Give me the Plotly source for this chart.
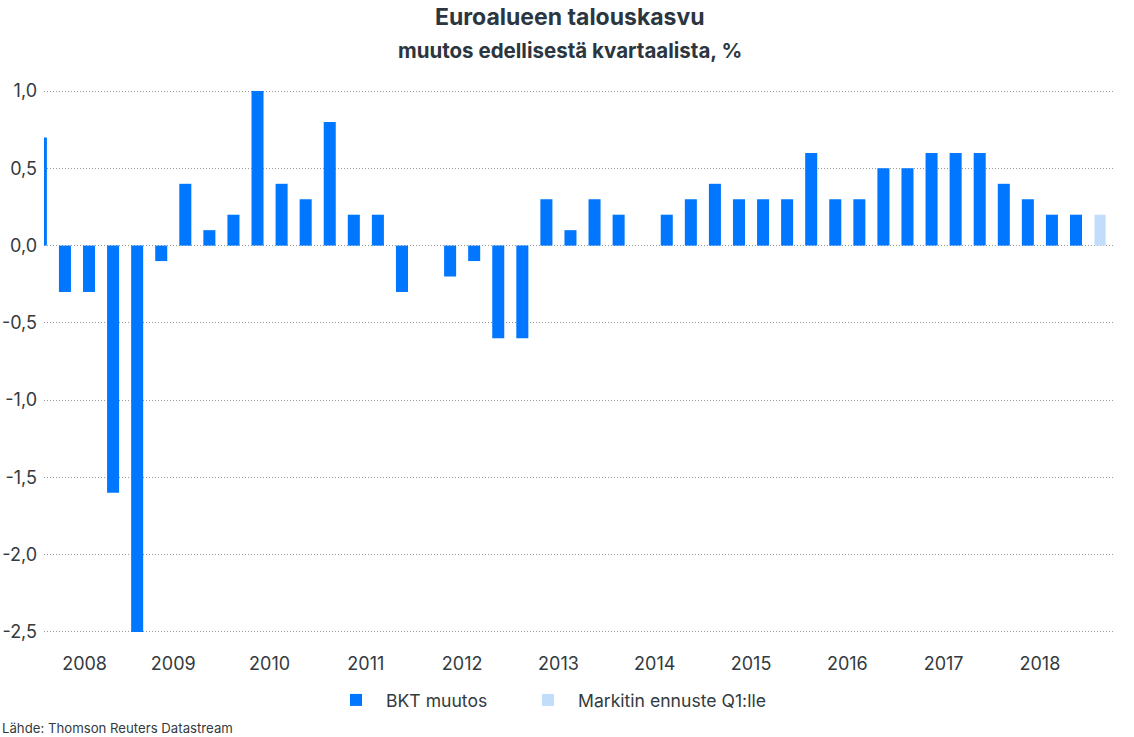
import plotly.graph_objects as go

# Quarterly euro-area GDP change, % q/q, starting 2008 Q1
start_year = 2008
gdp_change = [0.7, -0.3, -0.3, -1.6,
              -2.5, -0.1, 0.4, 0.1,
              0.2, 1.0, 0.4, 0.3,
              0.8, 0.2, 0.2, -0.3,
              0.0, -0.2, -0.1, -0.6,
              -0.6, 0.3, 0.1, 0.3,
              0.2, 0.0, 0.2, 0.3,
              0.4, 0.3, 0.3, 0.3,
              0.6, 0.3, 0.3, 0.5,
              0.5, 0.6, 0.6, 0.6,
              0.4, 0.3, 0.2, 0.2]
forecast_value = [0.2]  # Markit forecast for next Q1

years = list(range(2008, 2019))
y_ticks = [1.0, 0.5, 0.0, -0.5, -1.0, -1.5, -2.0, -2.5]
y_tick_text = [f"{v:.1f}".replace(".", ",") for v in y_ticks]

quarters_x = list(range(len(gdp_change)))
forecast_x = [len(gdp_change)]

BLUE = "#0077fe"
LIGHT = "#c2ddfb"
TXT = "#333a40"
FONT = "Inter"

x_range = [0.13, 44.62]
year_pos = []
for yr in years:
    first = 4 * (yr - start_year)
    lo = max(first - 0.5, x_range[0])
    year_pos.append((lo + first + 3.5) / 2)

fig = go.Figure()
fig.add_trace(go.Bar(x=quarters_x, y=gdp_change, name="BKT muutos",
                     marker=dict(color=BLUE, line=dict(width=0)), width=0.5,
                     legend="legend"))
fig.add_trace(go.Bar(x=forecast_x, y=forecast_value, name="Markitin ennuste Q1:lle",
                     marker=dict(color=LIGHT, line=dict(width=0)), width=0.46,
                     legend="legend2"))

legend_style = dict(orientation="h", xref="container", yref="container",
                    xanchor="left", y=1 - 700 / 737, yanchor="middle",
                    font=dict(size=17.6, color=TXT), itemwidth=50,
                    bgcolor="rgba(0,0,0,0)")

fig.update_layout(
    width=1134, height=737,
    margin=dict(l=44, r=19, t=88, b=102, autoexpand=False),
    paper_bgcolor="white", plot_bgcolor="white",
    font=dict(family=FONT, color=TXT, size=18),
    barmode="overlay",
    showlegend=True,
    legend=dict(x=326 / 1134, **legend_style),
    legend2=dict(x=518 / 1134, **legend_style),
    xaxis=dict(range=x_range, tickvals=year_pos, ticktext=[str(y) for y in years],
               showgrid=False, zeroline=False, showline=False, ticks="",
               automargin=False,
               ticklabelstandoff=16, tickfont=dict(size=18, color=TXT)),
    yaxis=dict(range=[-2.52, 1.02], tickvals=y_ticks, ticktext=y_tick_text,
               showgrid=True, gridcolor="#9a9a9a", griddash="1px,2px", gridwidth=1,
               zeroline=False, showline=False, ticks="", automargin=False,
               ticklabelstandoff=6, tickfont=dict(size=18, color=TXT)),
    annotations=[
        dict(text="<b>Euroalueen talouskasvu</b>", xref="paper", yref="paper",
             x=(569.5 - 44) / 1071, y=1 + (88 - 17) / 547, xanchor="center", yanchor="middle",
             showarrow=False, font=dict(size=23, color="#2b3640", family=FONT)),
        dict(text="<b>muutos edellisestä kvartaalista, %</b>", xref="paper", yref="paper",
             x=(569.5 - 44) / 1071, y=1 + (88 - 50) / 547, xanchor="center", yanchor="middle",
             showarrow=False, font=dict(size=20.5, color="#2b3640", family=FONT)),
        dict(text="Lähde: Thomson Reuters Datastream", xref="paper", yref="paper",
             x=(0 - 44) / 1071, y=-(728 - 635) / 547, xanchor="left", yanchor="middle",
             showarrow=False, font=dict(size=13.2, color=TXT, family=FONT)),
    ],
)

fig.write_html("out.html", config={"displayModeBar": False},
               post_script="document.body.style.margin='0';document.body.style.overflow='hidden';")
